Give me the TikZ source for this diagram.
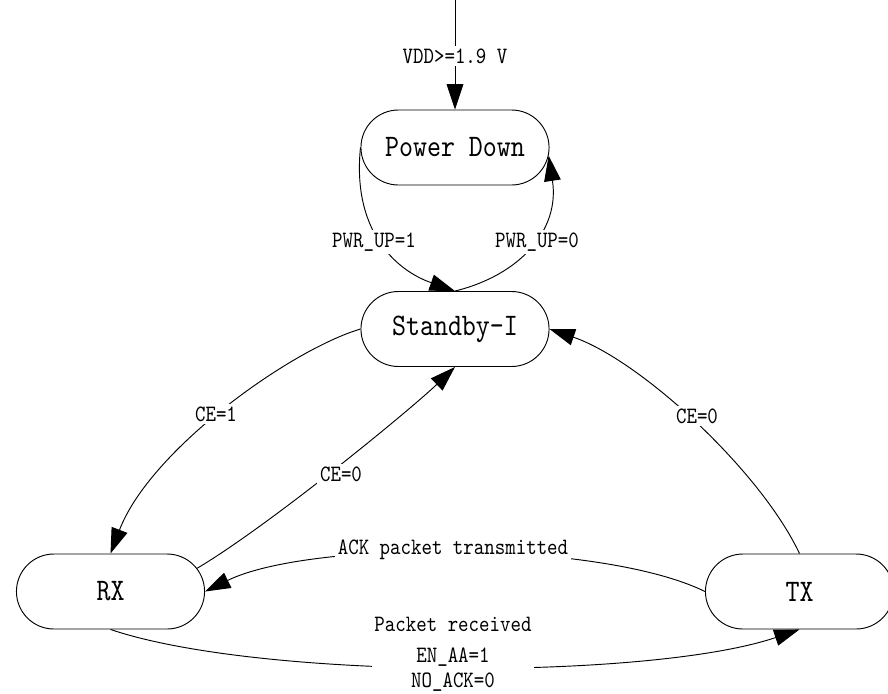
\documentclass[tikz,border=0pt]{standalone}
\usepackage{fontspec}
\newfontfamily\diafont[FakeStretch=0.85]{lmmono10-regular.otf}
\usetikzlibrary{shapes.misc,arrows.meta}
\begin{document}
\begin{tikzpicture}[x=0.75pt, y=-0.75pt, line width=0.7pt,
    state/.style = {draw, rounded rectangle, minimum width=147.75pt, minimum height=56.25pt, font=\diafont\fontsize{23.5}{28}\selectfont},
    lab/.style = {fill=white, inner sep=2pt, font=\diafont\fontsize{17.6}{18.75}\selectfont, align=center},
    arr/.style = {-{Triangle[length=19pt, width=12.5pt]}}]
    \useasboundingbox (0,0) rectangle (888,693);

    \node[state] (pd) at (455, 147.5) {Power Down};
    \node[state] (sb) at (455, 329)   {Standby-I};
    \node[state] (rx) at (110.5, 591.5) {RX};
    \node[state] (tx) at (799.5, 591.5) {TX};
    \coordinate (pin) at (455, 0);

    \draw [arr] (pin) -- (pd.north);
    \draw [arr] (pd.west) .. controls (352, 230) and (395, 270) .. (sb.north);
    \draw [arr] (sb.north) .. controls (520, 275) and (560, 230) .. (pd.-5);

    \draw [arr] (sb.west) .. controls (290, 350) and (150, 450) .. (rx.north);
    \draw [arr] (rx.15) .. controls (270, 525) and (410, 410) .. (sb.south);
    \draw [arr] (tx.north) .. controls (760, 470) and (640, 360) .. (sb.east);

    \draw [arr] (tx.west) .. controls (600, 540) and (310, 540) .. (rx.east);
    \draw [arr] (rx.south) .. controls (260, 680) and (650, 680) .. (tx.south);

    \node[lab] (vdd) at (455, 56)  {VDD>=1.9 V};
    \node[lab] (pu1) at (374, 242) {PWR\_UP=1};
    \node[lab] (pu0) at (537, 242) {PWR\_UP=0};
    \node[lab] (ce1) at (216, 414) {CE=1};
    \node[lab] (ce0l) at (341, 474) {CE=0};
    \node[lab] (ce0r) at (697, 416) {CE=0};
    \node[lab] (ack) at (453, 550) {ACK packet transmitted};
    \node[lab] (rcv) at (453, 654) {Packet received\\[4.5pt] EN\_AA=1\\NO\_ACK=0};

\end{tikzpicture}
\end{document}
